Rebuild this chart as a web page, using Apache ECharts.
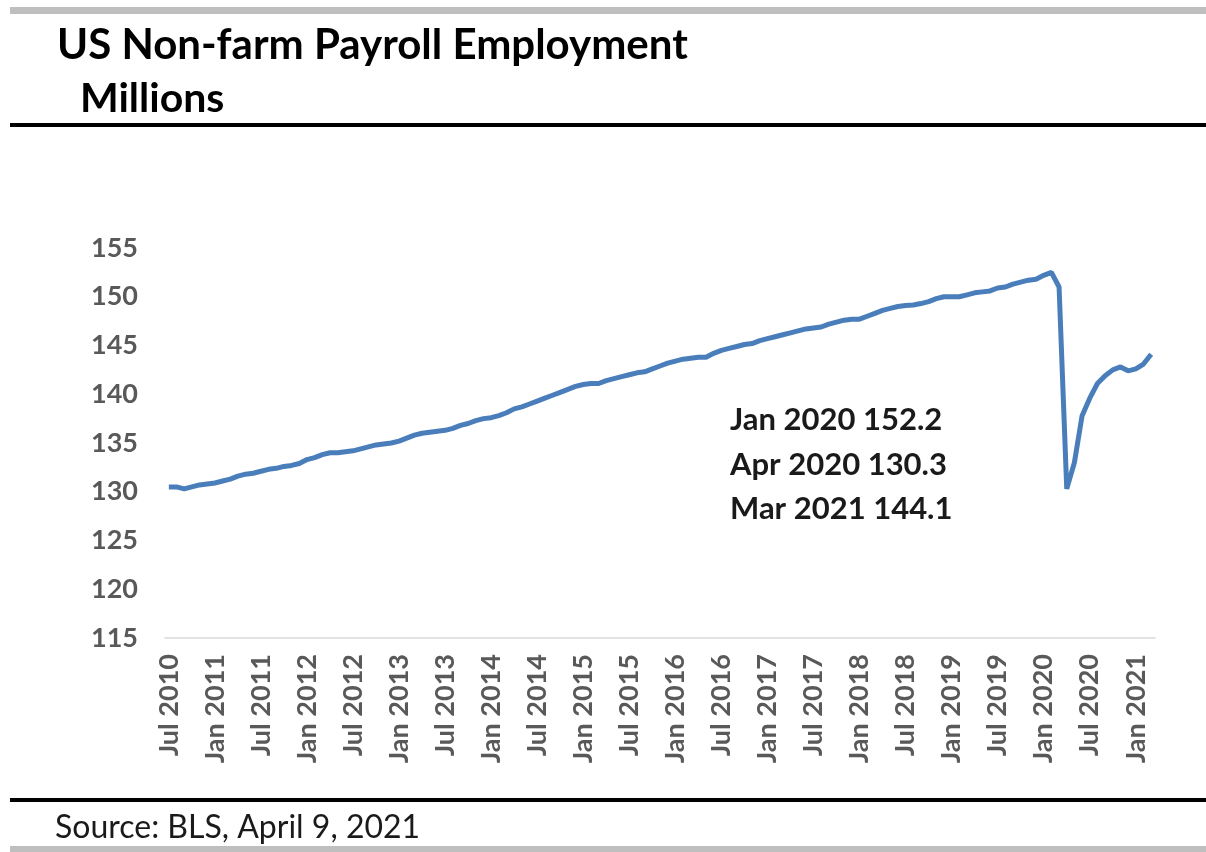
<!DOCTYPE html>
<html>
<head>
<meta charset="utf-8">
<title>US Non-farm Payroll Employment</title>
<script src="https://cdn.jsdelivr.net/npm/echarts@6/dist/echarts.min.js"></script>
<style>
  html, body { margin: 0; padding: 0; background: #fff; }
  #chart { width: 1206px; height: 852px; }
</style>
</head>
<body>
<div id="chart"></div>
<script>
// monthly payroll employment, millions, Jul 2010 .. Mar 2021
const payroll2010 = [130.5, 130.5, 130.3, 130.5, 130.7, 130.8]
const payroll2011 = [130.9, 131.1, 131.3, 131.6, 131.8, 131.9, 132.1, 132.3, 132.4, 132.6, 132.7, 132.9]
const payroll2012 = [133.3, 133.5, 133.8, 134.0, 134.0, 134.1, 134.2, 134.4, 134.6, 134.8, 134.9, 135.0]
const payroll2013 = [135.2, 135.5, 135.8, 136.0, 136.1, 136.2, 136.3, 136.5, 136.8, 137.0, 137.3, 137.5]
const payroll2014 = [137.6, 137.8, 138.1, 138.5, 138.7, 139.0, 139.3, 139.6, 139.9, 140.2, 140.5, 140.8]
const payroll2015 = [141.0, 141.1, 141.1, 141.4, 141.6, 141.8, 142.0, 142.2, 142.3, 142.6, 142.9, 143.2]
const payroll2016 = [143.4, 143.6, 143.7, 143.8, 143.8, 144.2, 144.5, 144.7, 144.9, 145.1, 145.2, 145.5]
const payroll2017 = [145.7, 145.9, 146.1, 146.3, 146.5, 146.7, 146.8, 146.9, 147.2, 147.4, 147.6, 147.7]
const payroll2018 = [147.7, 148.0, 148.3, 148.6, 148.8, 149.0, 149.1, 149.15, 149.3, 149.5, 149.8, 150.0]
const payroll2019 = [150.0, 150.0, 150.2, 150.4, 150.5, 150.6, 150.9, 151.0, 151.3, 151.5, 151.7, 151.8]
const payroll2020 = [152.2, 152.5, 151.0, 130.3, 133.0, 137.8, 139.6, 141.1, 141.9, 142.5, 142.8, 142.4]
const payroll2021 = [142.6, 143.1, 144.1]

const monthNames = ['Jan', 'Feb', 'Mar', 'Apr', 'May', 'Jun', 'Jul', 'Aug', 'Sep', 'Oct', 'Nov', 'Dec']
const startYear = 2010
const startMonth = 6 // Jul

const notes = ['Jan 2020 152.2', 'Apr 2020 130.3', 'Mar 2021 144.1']

const values = [].concat(payroll2010, payroll2011, payroll2012, payroll2013, payroll2014,
  payroll2015, payroll2016, payroll2017, payroll2018, payroll2019, payroll2020, payroll2021)

// category labels, one per month
const months = values.map((v, i) => {
  const m = startMonth + i
  return monthNames[m % 12] + ' ' + (startYear + Math.floor(m / 12))
})

const font = 'Lato, "Open Sans", sans-serif'
const chart = echarts.init(document.getElementById('chart'))

chart.setOption({
  animation: false,
  backgroundColor: '#fff',
  grid: { left: 165, right: 51, top: 248, bottom: 214 },
  xAxis: {
    type: 'category',
    data: months,
    boundaryGap: true,
    axisLine: { lineStyle: { color: '#d9d9d9', width: 1.5 } },
    axisTick: { show: false },
    axisLabel: {
      interval: 5,
      rotate: 90,
      margin: 16,
      color: '#595959',
      fontFamily: font,
      fontWeight: 'bold',
      fontSize: 27
    },
    splitLine: { show: false }
  },
  yAxis: {
    type: 'value',
    min: 115,
    max: 155,
    interval: 5,
    axisLine: { show: false },
    axisTick: { show: false },
    splitLine: { show: false },
    axisLabel: {
      margin: 27,
      color: '#595959',
      fontFamily: font,
      fontWeight: 'bold',
      fontSize: 27
    }
  },
  series: [{
    type: 'line',
    data: values,
    showSymbol: false,
    lineStyle: { color: '#4a7ebb', width: 5 },
    itemStyle: { color: '#4a7ebb' }
  }],
  graphic: [
    // frame lines
    { type: 'rect', shape: { x: 10, y: 7, width: 1196, height: 7 }, style: { fill: '#bfbfbf' } },
    { type: 'rect', shape: { x: 10, y: 123, width: 1196, height: 4 }, style: { fill: '#000' } },
    { type: 'rect', shape: { x: 10, y: 798, width: 1196, height: 4 }, style: { fill: '#000' } },
    { type: 'rect', shape: { x: 10, y: 846, width: 1196, height: 6 }, style: { fill: '#bfbfbf' } },
    {
      type: 'text', left: 57, top: 24,
      style: { text: 'US Non-farm Payroll Employment', font: 'bold 42px ' + font, fill: '#000' }
    },
    {
      type: 'text', left: 80, top: 78,
      style: { text: 'Millions', font: 'bold 41px ' + font, fill: '#000' }
    },
    {
      type: 'text', left: 730, top: 398,
      style: { text: notes.join('\n'), font: 'bold 31px ' + font, lineHeight: 44.5, fill: '#1a1a1a' }
    },
    {
      type: 'text', left: 55, top: 812,
      style: { text: 'Source: BLS, April 9, 2021', font: '32px ' + font, fill: '#1a1a1a' }
    }
  ]
})
</script>
</body>
</html>
